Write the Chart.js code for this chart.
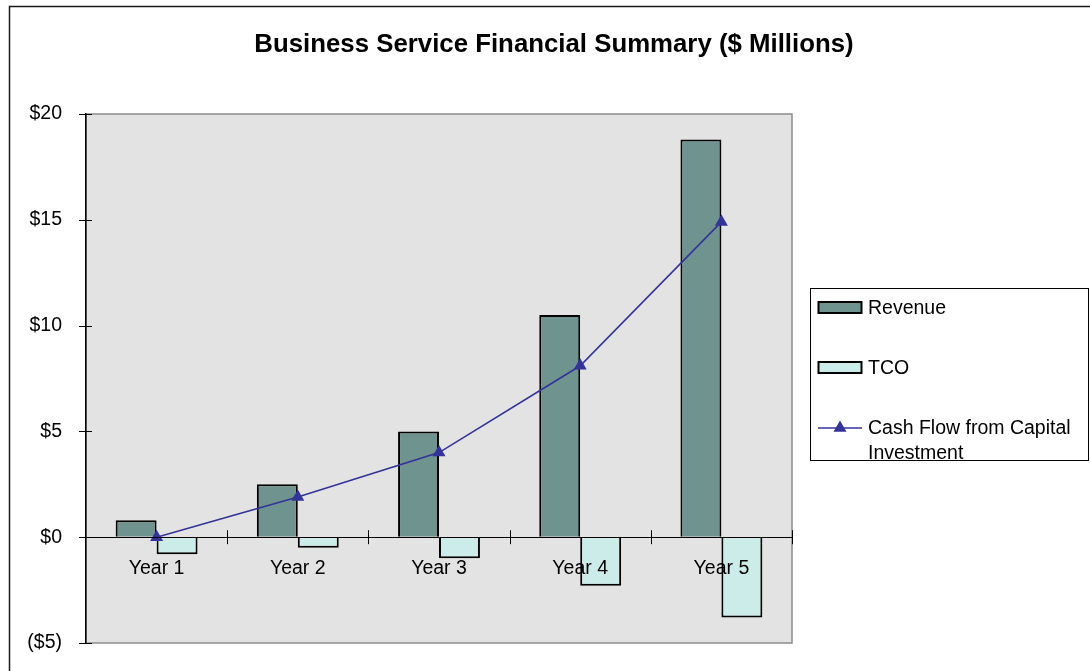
<!DOCTYPE html>
<html lang="en">
<head>
<meta charset="UTF-8">
<title>Business Service Financial Summary</title>
<script src="https://cdn.jsdelivr.net/npm/chart.js"></script>
<style>
  html, body { margin: 0; padding: 0; background: #fff; }
  #wrap { width: 1090px; height: 671px; }
</style>
</head>
<body>
<div id="wrap"><canvas id="summary" width="1090" height="671"></canvas></div>
<script>
  const years = ['Year 1', 'Year 2', 'Year 3', 'Year 4', 'Year 5'];
  const revenue = [0.8, 2.5, 5.0, 10.5, 18.8];
  const tco = [-0.8, -0.5, -1.0, -2.3, -3.8];
  const cashFlow = [0, 1.9, 4.0, 8.1, 14.9];
  const yTicks = [-5, 0, 5, 10, 15, 20];
  const chartTitle = 'Business Service Financial Summary ($ Millions)';

  const FONT = "'Liberation Sans', Arial, sans-serif";
  const fontPx = 19.5;

  function money(v) {
    return v < 0 ? '($' + Math.abs(v) + ')' : '$' + v;
  }

  // background, outer frame, plot area and title
  const frame = {
    id: 'frame',
    beforeDraw(chart) {
      const { ctx, chartArea: a } = chart;
      ctx.save();
      ctx.fillStyle = '#fff';
      ctx.fillRect(0, 0, chart.width, chart.height);
      ctx.strokeStyle = '#1a1a1a';
      ctx.lineWidth = 1.5;
      ctx.strokeRect(9.5, 6.5, 1300, 900);

      ctx.fillStyle = '#e3e3e3';
      ctx.fillRect(a.left, a.top, a.right - a.left, a.bottom - a.top);
      ctx.strokeStyle = '#8c8c8c';
      ctx.lineWidth = 1.5;
      ctx.strokeRect(a.left, a.top, a.right - a.left, a.bottom - a.top);

      ctx.fillStyle = '#000';
      ctx.font = 'bold 25.8px ' + FONT;
      ctx.textAlign = 'center';
      ctx.textBaseline = 'middle';
      ctx.fillText(chartTitle, 554, 45);
      ctx.restore();
    }
  };

  // tick marks that cross the axes, plus the legend box
  const extras = {
    id: 'extras',
    afterDraw(chart) {
      const { ctx, chartArea: a } = chart;
      const xs = chart.scales.x, ys = chart.scales.y;
      const zero = ys.getPixelForValue(0);
      ctx.save();
      ctx.strokeStyle = '#000';
      ctx.lineWidth = 1;
      ys.ticks.forEach(t => {
        const y = Math.round(ys.getPixelForValue(t.value)) + 0.5;
        ctx.beginPath();
        ctx.moveTo(a.left - 7, y);
        ctx.lineTo(a.left + 6, y);
        ctx.stroke();
      });
      for (let i = 1; i <= years.length; i++) {
        const x = Math.round(xs.getPixelForValue(i - 0.5)) + 0.5;
        ctx.beginPath();
        ctx.moveTo(x, zero - 7);
        ctx.lineTo(x, zero + 7);
        ctx.stroke();
      }

      // legend
      ctx.fillStyle = '#fff';
      ctx.fillRect(810.5, 288.5, 278, 172);
      ctx.strokeRect(810.5, 288.5, 278, 172);
      ctx.font = fontPx + 'px ' + FONT;
      ctx.textAlign = 'left';
      ctx.textBaseline = 'alphabetic';
      const rows = [307.5, 367.5, 428];
      chart.data.datasets.forEach((ds, i) => {
        const cy = rows[i];
        if (ds.type === 'line') {
          ctx.strokeStyle = ds.borderColor;
          ctx.lineWidth = 1.5;
          ctx.beginPath();
          ctx.moveTo(818, cy);
          ctx.lineTo(862, cy);
          ctx.stroke();
          const r = 7.5;
          ctx.fillStyle = ds.backgroundColor;
          ctx.beginPath();
          ctx.moveTo(840, cy - r);
          ctx.lineTo(840 + r * 0.866, cy + r / 2);
          ctx.lineTo(840 - r * 0.866, cy + r / 2);
          ctx.closePath();
          ctx.fill();
        } else {
          ctx.fillStyle = ds.backgroundColor;
          ctx.fillRect(818.5, cy - 5.5, 43, 11);
          ctx.strokeStyle = '#000';
          ctx.lineWidth = 2;
          ctx.strokeRect(818.5, cy - 5.5, 43, 11);
        }
        // wrap long labels inside the box
        const words = ds.label.split(' ');
        const lines = [];
        let cur = '';
        words.forEach(w => {
          const test = cur ? cur + ' ' + w : w;
          if (ctx.measureText(test).width > 220 && cur) {
            lines.push(cur);
            cur = w;
          } else {
            cur = test;
          }
        });
        lines.push(cur);
        ctx.fillStyle = '#000';
        lines.forEach((ln, k) => ctx.fillText(ln, 868, cy + 6 + k * 25));
      });
      ctx.restore();
    }
  };

  Chart.defaults.font.family = FONT;
  Chart.defaults.font.size = fontPx;
  Chart.defaults.color = '#000';

  new Chart(document.getElementById('summary'), {
    type: 'bar',
    data: {
      labels: years,
      datasets: [
        {
          label: 'Revenue',
          data: revenue,
          backgroundColor: '#6f9490',
          borderColor: '#000',
          borderWidth: 2,
          categoryPercentage: 0.58,
          barPercentage: 1.0,
          order: 1
        },
        {
          label: 'TCO',
          data: tco,
          backgroundColor: '#ccece9',
          borderColor: '#000',
          borderWidth: 2,
          categoryPercentage: 0.58,
          barPercentage: 1.0,
          order: 1
        },
        {
          type: 'line',
          label: 'Cash Flow from Capital Investment',
          data: cashFlow,
          borderColor: '#333399',
          backgroundColor: '#333399',
          borderWidth: 1.6,
          tension: 0,
          pointStyle: 'triangle',
          pointRadius: 7.5,
          pointBorderWidth: 0,
          order: 0
        }
      ]
    },
    options: {
      responsive: false,
      devicePixelRatio: 1,
      animation: false,
      layout: { padding: { top: 114, right: 298, bottom: 28, left: 0 } },
      plugins: {
        legend: { display: false },
        title: { display: false },
        tooltip: { enabled: false }
      },
      scales: {
        x: {
          position: { y: 0 },
          offset: true,
          afterFit: s => { s.height = 0; },
          grid: { display: true, offset: true, drawOnChartArea: false, drawTicks: false },
          border: { display: true, color: '#000', width: 1, z: 1 },
          ticks: { padding: 20, z: 1, maxRotation: 0 }
        },
        y: {
          min: -5,
          max: 20,
          afterBuildTicks: s => { s.ticks = yTicks.map(v => ({ value: v })); },
          afterFit: s => { s.width = 86; s.paddingTop = 0; s.paddingBottom = 0; },
          grid: { display: true, drawOnChartArea: false, drawTicks: false },
          border: { display: true, color: '#000', width: 1.5 },
          ticks: { padding: 24, callback: v => money(v) }
        }
      }
    },
    plugins: [frame, extras]
  });
</script>
</body>
</html>
